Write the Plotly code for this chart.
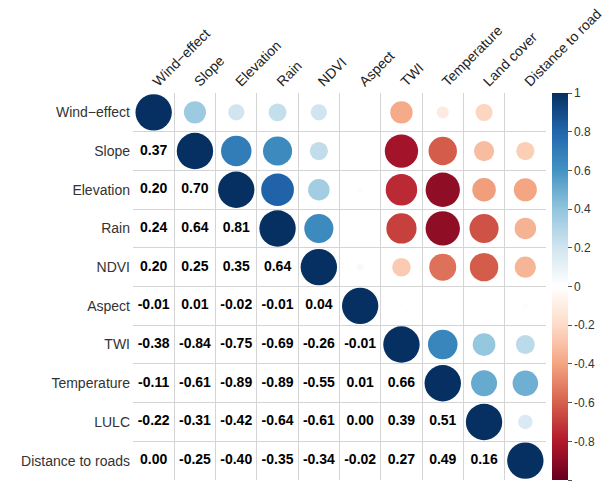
import numpy as np
import plotly.graph_objects as go

# Variable names (rows) and header names (columns)
row_labels = ["Wind\u2212effect", "Slope", "Elevation", "Rain", "NDVI", "Aspect",
              "TWI", "Temperature", "LULC", "Distance to roads"]
col_labels = ["Wind\u2212effect", "Slope", "Elevation", "Rain", "NDVI", "Aspect",
              "TWI", "Temperature", "Land cover", "Distance to road"]

# Lower-triangle correlation coefficients, row by row
lower_rows = [
    [],
    [0.37],
    [0.20, 0.70],
    [0.24, 0.64, 0.81],
    [0.20, 0.25, 0.35, 0.64],
    [-0.01, 0.01, -0.02, -0.01, 0.04],
    [-0.38, -0.84, -0.75, -0.69, -0.26, -0.01],
    [-0.11, -0.61, -0.89, -0.89, -0.55, 0.01, 0.66],
    [-0.22, -0.31, -0.42, -0.64, -0.61, 0.00, 0.39, 0.51],
    [0.00, -0.25, -0.40, -0.35, -0.34, -0.02, 0.27, 0.49, 0.16],
]

n = len(row_labels)
corr = np.eye(n)
for i, vals in enumerate(lower_rows):
    for j, v in enumerate(vals):
        corr[i, j] = v
        corr[j, i] = v

# corrplot-style RdBu palette
rdbu = ["#67001F", "#B2182B", "#D6604D", "#F4A582", "#FDDBC7", "#FFFFFF",
        "#D1E5F0", "#92C5DE", "#4393C3", "#2166AC", "#053061"]
colorscale = [[k / (len(rdbu) - 1), c] for k, c in enumerate(rdbu)]

FONT = "Arial, Liberation Sans, sans-serif"
W, H = 614, 487
L, R, T, B = 133, 68, 93, 7
cell_h = (H - T - B) / n
max_diam = cell_h * 0.94

# upper triangle (with diagonal): circles, area proportional to |r|
ux, uy, uc, us = [], [], [], []
for i in range(n):
    for j in range(i, n):
        ux.append(j + 1)
        uy.append(i + 1)
        uc.append(corr[i, j])
        us.append(max_diam * np.sqrt(abs(corr[i, j])))

# lower triangle: coefficient text
lx, ly, lt = [], [], []
for i in range(n):
    for j in range(i):
        lx.append(j + 1)
        ly.append(i + 1)
        lt.append(f"{corr[i, j]:.2f}")

fig = go.Figure()
fig.add_trace(go.Scatter(
    x=ux, y=uy, mode="markers",
    marker=dict(
        size=us, sizemode="diameter", color=uc, cmin=-1, cmax=1,
        colorscale=colorscale, line=dict(width=0), opacity=1,
        colorbar=dict(
            x=1.014, xanchor="left", xpad=0, y=0.5, yanchor="middle",
            len=1, lenmode="fraction", ypad=0, thickness=16,
            outlinewidth=0,
            tickvals=[1, 0.8, 0.6, 0.4, 0.2, 0, -0.2, -0.4, -0.6, -0.8, -1],
            ticktext=["1", "0.8", "0.6", "0.4", "0.2", "0", "-0.2", "-0.4",
                      "-0.6", "-0.8", "-1"],
            ticks="outside", ticklen=4, tickcolor="#555",
            tickfont=dict(family=FONT, size=12, color="#333"),
        ),
    ),
    hoverinfo="skip", showlegend=False,
))
fig.add_trace(go.Scatter(
    x=lx, y=ly, mode="text", text=lt,
    textfont=dict(family=FONT, size=14, color="#000", weight="bold"),
    hoverinfo="skip", showlegend=False,
))

fig.update_layout(
    width=W, height=H,
    margin=dict(l=L, r=R, t=T, b=B, pad=0),
    paper_bgcolor="white", plot_bgcolor="white",
    xaxis=dict(
        range=[0.5, n + 0.5], side="top",
        tickmode="array", tickvals=list(range(1, n + 1)), ticktext=col_labels,
        tickangle=-45, ticks="", showgrid=False, zeroline=False,
        tickfont=dict(family=FONT, size=14, color="#222"),
        minor=dict(tickmode="linear", tick0=0.5, dtick=1, showgrid=True,
                   gridcolor="#d4d4d4", gridwidth=1),
        showline=False, fixedrange=True,
    ),
    yaxis=dict(
        range=[n + 0.5, 0.5],
        tickmode="array", tickvals=list(range(1, n + 1)), ticktext=row_labels,
        ticks="", showgrid=False, zeroline=False,
        tickfont=dict(family=FONT, size=14, color="#333"),
        minor=dict(tickmode="linear", tick0=0.5, dtick=1, showgrid=True,
                   gridcolor="#d4d4d4", gridwidth=1),
        showline=False, fixedrange=True, ticklabelstandoff=2,
    ),
)

fig.write_html("out.html")
